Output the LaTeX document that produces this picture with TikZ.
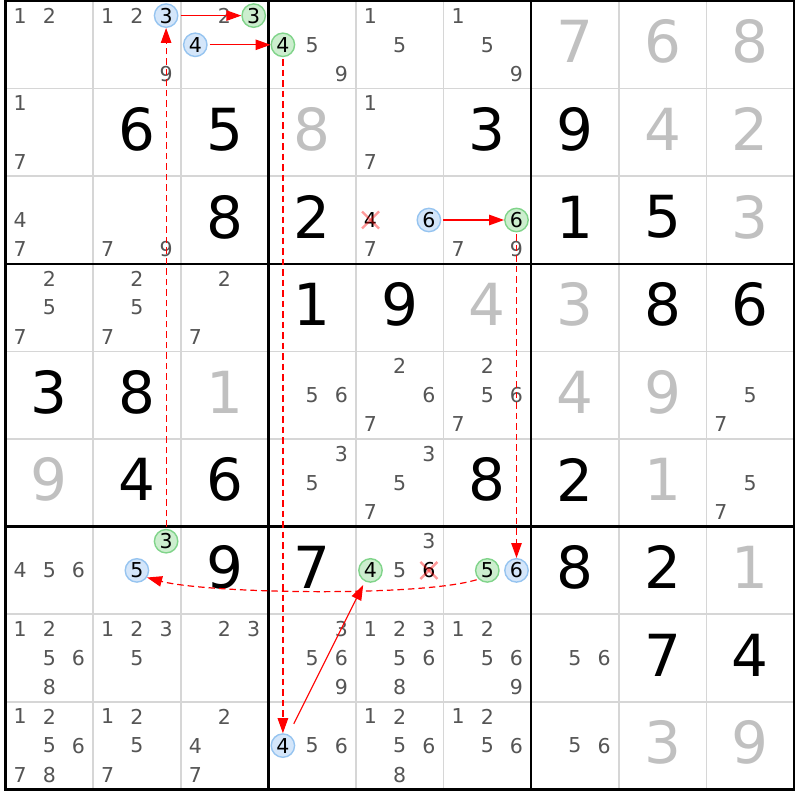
\documentclass[tikz,border=0pt]{standalone}
\usepackage{fontspec}
\setmainfont{DejaVu Sans}
\usetikzlibrary{arrows.meta}
\definecolor{candgray}{RGB}{85,85,85}
\definecolor{solvedgray}{RGB}{192,192,192}
\definecolor{thingrid}{RGB}{214,214,214}
\definecolor{bluefill}{RGB}{212,230,250}
\definecolor{blueline}{RGB}{150,196,240}
\definecolor{greenfill}{RGB}{204,238,206}
\definecolor{greenline}{RGB}{128,212,138}
\definecolor{linkred}{RGB}{255,0,0}
\tikzset{
 cand/.style={inner sep=0pt, text=candgray, font=\fontsize{20.5}{24}\selectfont},
 candblack/.style={cand, text=black},
 bluec/.style={circle, draw=blueline, fill=bluefill, line width=1.4pt, minimum size=23.4pt, inner sep=0pt, text=black, font=\fontsize{20.5}{24}\selectfont},
 greenc/.style={bluec, draw=greenline, fill=greenfill},
 givendig/.style={inner sep=0pt, text=black, font=\fontsize{58}{60}\selectfont},
 solveddig/.style={givendig, text=solvedgray},
 thinline/.style={draw=thingrid, line width=1.6pt},
 thickline/.style={draw=black, line width=2.6pt},
 strong/.style={draw=linkred, line width=1.1pt, -{Triangle[length=15pt,width=10.5pt]}, shorten <=2pt},
 weak/.style={strong, line width=1.2pt, dash pattern=on 6.5pt off 4pt},
 xmark/.style={draw=red, opacity=0.4, line width=2.4pt},
}
\newcommand{\cands}[3]{\foreach \d in {#3}{\node[cand] (r#1c#2d\d) at ({5.5+(#2-1)*87.6+(mod(\d-1,3)+0.5)*29.2},{1+(#1-1)*87.6+(floor((\d-1)/3)+0.5)*29.2}) {\d};}}
\newcommand{\hlc}[4]{\node[#4] (r#1c#2d#3) at ({5.5+(#2-1)*87.6+(mod(#3-1,3)+0.5)*29.2},{1+(#1-1)*87.6+(floor((#3-1)/3)+0.5)*29.2}) {#3};}
\newcommand{\gv}[4]{\node[#4] (g#1c#2) at ({5.5+(#2-0.5)*87.6},{1+(#1-0.5)*87.6-3}) {#3};}
\newcommand{\xcross}[1]{%
 \draw[xmark] ([shift={(-8.5,-8.5)}]#1.center) -- ([shift={(8.5,8.5)}]#1.center);
 \draw[xmark] ([shift={(-8.5,8.5)}]#1.center) -- ([shift={(8.5,-8.5)}]#1.center);}
\begin{document}
\begin{tikzpicture}[x=1pt,y=-1pt]
\useasboundingbox (0,0) rectangle (800,800);
\fill[white] (0,0) rectangle (800,800);
% grid
\foreach \i in {1,2,4,5,7,8}{
 \draw[thinline] ({5.5+\i*87.6},1) -- ({5.5+\i*87.6},789.4);
 \draw[thinline] (5.5,{1+\i*87.6}) -- (793.9,{1+\i*87.6});}
\foreach \i in {3,6}{
 \draw[thickline] ({5.5+\i*87.6},1) -- ({5.5+\i*87.6},789.4);
 \draw[thickline] (5.5,{1+\i*87.6}) -- (793.9,{1+\i*87.6});}
\draw[thickline] (5.5,1) rectangle (793.9,789.4);
% row 1
\cands{1}{1}{1,2}
\cands{1}{2}{1,2,9} \hlc{1}{2}{3}{bluec}
\cands{1}{3}{2} \hlc{1}{3}{3}{greenc} \hlc{1}{3}{4}{bluec}
\cands{1}{4}{5,9} \hlc{1}{4}{4}{greenc}
\cands{1}{5}{1,5}
\cands{1}{6}{1,5,9}
\gv{1}{7}{7}{solveddig} \gv{1}{8}{6}{solveddig} \gv{1}{9}{8}{solveddig}
% row 2
\cands{2}{1}{1,7} \gv{2}{2}{6}{givendig} \gv{2}{3}{5}{givendig} \gv{2}{4}{8}{solveddig}
\cands{2}{5}{1,7} \gv{2}{6}{3}{givendig} \gv{2}{7}{9}{givendig} \gv{2}{8}{4}{solveddig} \gv{2}{9}{2}{solveddig}
% row 3
\cands{3}{1}{4,7} \cands{3}{2}{7,9} \gv{3}{3}{8}{givendig} \gv{3}{4}{2}{givendig}
\cands{3}{5}{7} \hlc{3}{5}{4}{candblack} \hlc{3}{5}{6}{bluec}
\cands{3}{6}{7,9} \hlc{3}{6}{6}{greenc}
\gv{3}{7}{1}{givendig} \gv{3}{8}{5}{givendig} \gv{3}{9}{3}{solveddig}
% row 4
\cands{4}{1}{2,5,7} \cands{4}{2}{2,5,7} \cands{4}{3}{2,7}
\gv{4}{4}{1}{givendig} \gv{4}{5}{9}{givendig} \gv{4}{6}{4}{solveddig}
\gv{4}{7}{3}{solveddig} \gv{4}{8}{8}{givendig} \gv{4}{9}{6}{givendig}
% row 5
\gv{5}{1}{3}{givendig} \gv{5}{2}{8}{givendig} \gv{5}{3}{1}{solveddig}
\cands{5}{4}{5,6} \cands{5}{5}{2,6,7} \cands{5}{6}{2,5,6,7}
\gv{5}{7}{4}{solveddig} \gv{5}{8}{9}{solveddig} \cands{5}{9}{5,7}
% row 6
\gv{6}{1}{9}{solveddig} \gv{6}{2}{4}{givendig} \gv{6}{3}{6}{givendig}
\cands{6}{4}{3,5} \cands{6}{5}{3,5,7} \gv{6}{6}{8}{givendig}
\gv{6}{7}{2}{givendig} \gv{6}{8}{1}{solveddig} \cands{6}{9}{5,7}
% row 7
\cands{7}{1}{4,5,6} \hlc{7}{2}{3}{greenc} \hlc{7}{2}{5}{bluec}
\gv{7}{3}{9}{givendig} \gv{7}{4}{7}{givendig}
\cands{7}{5}{3,5} \hlc{7}{5}{4}{greenc} \hlc{7}{5}{6}{candblack}
\hlc{7}{6}{5}{greenc} \hlc{7}{6}{6}{bluec}
\gv{7}{7}{8}{givendig} \gv{7}{8}{2}{givendig} \gv{7}{9}{1}{solveddig}
% row 8
\cands{8}{1}{1,2,5,6,8} \cands{8}{2}{1,2,3,5} \cands{8}{3}{2,3} \cands{8}{4}{3,5,6,9}
\cands{8}{5}{1,2,3,5,6,8} \cands{8}{6}{1,2,5,6,9} \cands{8}{7}{5,6}
\gv{8}{8}{7}{givendig} \gv{8}{9}{4}{givendig}
% row 9
\cands{9}{1}{1,2,5,6,7,8} \cands{9}{2}{1,2,5,7} \cands{9}{3}{2,4,7}
\cands{9}{4}{5,6} \hlc{9}{4}{4}{bluec}
\cands{9}{5}{1,2,5,6,8} \cands{9}{6}{1,2,5,6} \cands{9}{7}{5,6}
\gv{9}{8}{3}{solveddig} \gv{9}{9}{9}{solveddig}
% links
\draw[strong] (r1c2d3) -- (r1c3d3);
\draw[strong] (r1c3d4) -- (r1c4d4);
\draw[strong] (r3c5d6) -- (r3c6d6);
\draw[strong, shorten <=12pt, shorten >=4pt] (r9c4d4) -- (r7c5d4);
\draw[weak] (r7c2d3) -- (r1c2d3);
\draw[weak] (r1c4d4) -- (r9c4d4);
\draw[weak] (r3c6d6) -- (r7c6d6);
\draw[weak] (r7c6d5.225) .. controls +(-60,18) and +(60,16) .. (r7c2d5.-35);
% eliminations
\xcross{r3c5d4}
\xcross{r7c5d6}
\end{tikzpicture}
\end{document}
